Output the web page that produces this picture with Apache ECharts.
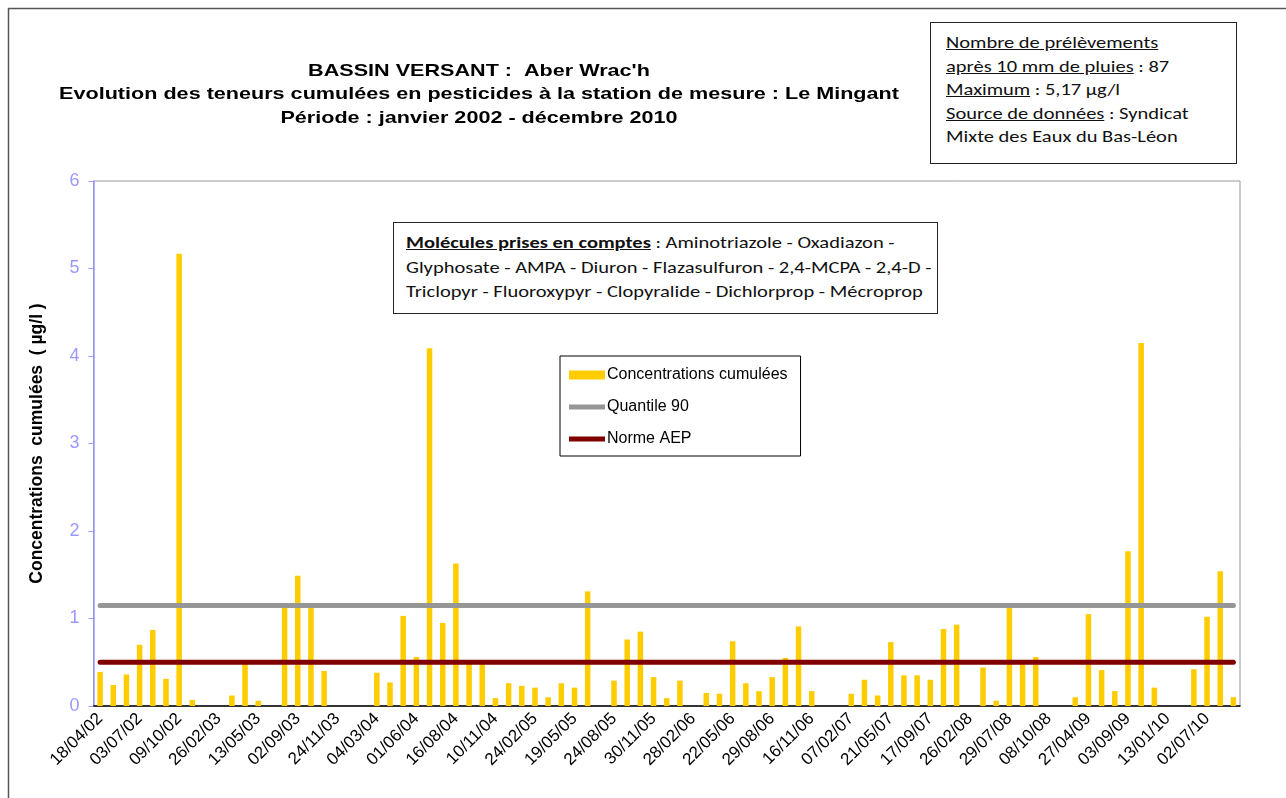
<!DOCTYPE html>
<html lang="fr">
<head>
<meta charset="utf-8">
<title>Aber Wrac'h - Le Mingant</title>
<script src="https://cdn.jsdelivr.net/npm/echarts@6/dist/echarts.min.js"></script>
<style>
  html, body { margin: 0; padding: 0; background: #fff; }
  #wrap { position: relative; width: 1286px; height: 798px; overflow: hidden; }
  #chart { position: absolute; left: 0; top: 0; width: 1286px; height: 798px; }
  .note {
    position: absolute;
    box-sizing: border-box;
    border: 1.5px solid #222;
    background: #fff;
    font-family: Carlito, Lato, 'Open Sans', sans-serif;
    color: #111;
    white-space: nowrap;
  }
  /* the reference text is drawn wide, so the lines are stretched sideways */
  .note .txt { display: inline-block; transform: scaleX(1.28); transform-origin: 0 0; }
  #info { left: 930px; top: 22px; width: 307px; height: 142px; padding: 8px 0 0 15px; font-size: 16px; line-height: 23.5px; }
  #molecules { left: 393px; top: 222px; width: 545px; height: 92px; padding: 8px 0 0 12px; font-size: 16px; line-height: 24.5px; }
</style>
</head>
<body>
<div id="wrap">
  <div id="chart"></div>
  <div id="info" class="note"><div class="txt">
    <u>Nombre de prélèvements</u><br>
    <u>après 10 mm de pluies</u> : 87<br>
    <u>Maximum</u> : 5,17 µg/l<br>
    <u>Source de données</u> : Syndicat<br>
    Mixte des Eaux du Bas-Léon
  </div></div>
  <div id="molecules" class="note"><div class="txt">
    <b><u>Molécules prises en comptes</u></b> : Aminotriazole - Oxadiazon -<br>
    Glyphosate - AMPA - Diuron - Flazasulfuron - 2,4-MCPA - 2,4-D -<br>
    Triclopyr - Fluoroxypyr - Clopyralide - Dichlorprop - Mécroprop
  </div></div>
</div>

<script>
// dates de prélèvement (seule une sur trois est lisible sur l'axe)
const categories = [
  '18/04/02', '', '', '03/07/02', '', '', '09/10/02', '', '',
  '26/02/03', '', '', '13/05/03', '', '', '02/09/03', '', '',
  '24/11/03', '', '', '04/03/04', '', '', '01/06/04', '', '',
  '16/08/04', '', '', '10/11/04', '', '', '24/02/05', '', '',
  '19/05/05', '', '', '24/08/05', '', '', '30/11/05', '', '',
  '28/02/06', '', '', '22/05/06', '', '', '29/08/06', '', '',
  '16/11/06', '', '', '07/02/07', '', '', '21/05/07', '', '',
  '17/09/07', '', '', '26/02/08', '', '', '29/07/08', '', '',
  '08/10/08', '', '', '27/04/09', '', '', '03/09/09', '', '',
  '13/01/10', '', '', '02/07/10', '', ''
]

// concentrations cumulées (µg/l)
const concentrations = [
  0.39, 0.24, 0.36, 0.70, 0.87, 0.31, 5.17, 0.07, 0, 0,
  0.12, 0.49, 0.06, 0, 1.12, 1.49, 1.12, 0.40, 0, 0,
  0, 0.38, 0.27, 1.03, 0.56, 4.09, 0.95, 1.63, 0.48, 0.48,
  0.09, 0.26, 0.23, 0.21, 0.10, 0.26, 0.21, 1.31, 0, 0.29,
  0.76, 0.85, 0.33, 0.09, 0.29, 0, 0.15, 0.14, 0.74, 0.26,
  0.17, 0.33, 0.55, 0.91, 0.17, 0, 0, 0.14, 0.30, 0.12,
  0.73, 0.35, 0.35, 0.30, 0.88, 0.93, 0, 0.44, 0.06, 1.12,
  0.48, 0.56, 0, 0, 0.10, 1.05, 0.41, 0.17, 1.77, 4.15,
  0.21, 0, 0, 0.42, 1.02, 1.54, 0.10
]

const quantile90 = 1.15
const normeAEP = 0.5

const yTicks = { min: 0, max: 6, interval: 1 }

const titleLines = [
  "BASSIN VERSANT :  Aber Wrac'h",
  'Evolution des teneurs cumulées en pesticides à la station de mesure : Le Mingant',
  'Période : janvier 2002 - décembre 2010',
]

const chart = echarts.init(document.getElementById('chart'))

const titleFont = "bold 17px 'Liberation Sans', Arial, sans-serif"

const option = {
  animation: false,
  backgroundColor: '#fff',
  textStyle: { fontFamily: "'Liberation Sans', Arial, sans-serif" },
  graphic: [
    {
      type: 'rect',
      silent: true,
      z: -1,
      shape: { x: 8.5, y: 8.5, width: 1400, height: 1000 },
      style: { fill: null, stroke: '#555', lineWidth: 1.5 },
    },
    ...titleLines.map((t, i) => ({
      type: 'text',
      silent: true,
      x: 479,
      y: 71 + i * 23.5,
      scaleX: 1.27,
      style: {
        text: t,
        font: titleFont,
        fill: '#000',
        textAlign: 'center',
        textVerticalAlign: 'middle',
      },
    })),
  ],
  legend: {
    orient: 'vertical',
    left: 560,
    top: 356,
    padding: [11, 13, 9, 9],
    itemGap: 16,
    itemWidth: 36,
    itemHeight: 10,
    borderColor: '#000',
    borderWidth: 1,
    backgroundColor: '#fff',
    textStyle: { fontSize: 16, color: '#000', padding: [0, 0, 0, -3] },
    data: [
      { name: 'Concentrations cumulées', icon: 'path://M0,0H36V9H0Z', itemStyle: { color: '#FFCC00' } },
      { name: 'Quantile 90', icon: 'path://M0,0H36V5H0Z', itemStyle: { color: '#969696' } },
      { name: 'Norme AEP', icon: 'path://M0,0H36V5H0Z', itemStyle: { color: '#800000' } },
    ],
  },
  grid: {
    left: 93.5,
    right: 46,
    top: 181,
    bottom: 92,
    show: true,
    borderColor: '#999',
    borderWidth: 1,
    outerBoundsMode: 'none',
  },
  xAxis: {
    type: 'category',
    data: categories,
    boundaryGap: true,
    axisLine: { lineStyle: { color: '#000', width: 1.5 } },
    axisTick: { interval: 0, length: 5, lineStyle: { color: '#000', width: 1 } },
    axisLabel: { interval: 2, rotate: 45, fontSize: 17, color: '#000', margin: 10 },
    splitLine: { show: false },
  },
  yAxis: {
    type: 'value',
    min: yTicks.min,
    max: yTicks.max,
    interval: yTicks.interval,
    name: 'Concentrations  cumulées  ( µg/l )',
    nameLocation: 'middle',
    nameGap: 47,
    nameTextStyle: { fontSize: 17.5, fontWeight: 'bold', color: '#000' },
    axisLine: { show: true, lineStyle: { color: '#9999FF', width: 1.5 } },
    axisTick: { show: true, length: 5, lineStyle: { color: '#9999FF' } },
    axisLabel: { fontSize: 18, color: '#9999FF', margin: 14 },
    splitLine: { show: false },
  },
  series: [
    {
      name: 'Concentrations cumulées',
      type: 'bar',
      data: concentrations,
      barWidth: 5.5,
      itemStyle: { color: '#FFCC00' },
      z: 2,
    },
    {
      name: 'Quantile 90',
      type: 'line',
      data: categories.map(() => quantile90),
      symbol: 'none',
      lineStyle: { color: '#969696', width: 5, cap: 'round' },
      itemStyle: { color: '#969696' },
      z: 3,
    },
    {
      name: 'Norme AEP',
      type: 'line',
      data: categories.map(() => normeAEP),
      symbol: 'none',
      lineStyle: { color: '#800000', width: 5, cap: 'round' },
      itemStyle: { color: '#800000' },
      z: 3,
    },
  ],
}

chart.setOption(option)
window.addEventListener('resize', () => chart.resize())
</script>
</body>
</html>
